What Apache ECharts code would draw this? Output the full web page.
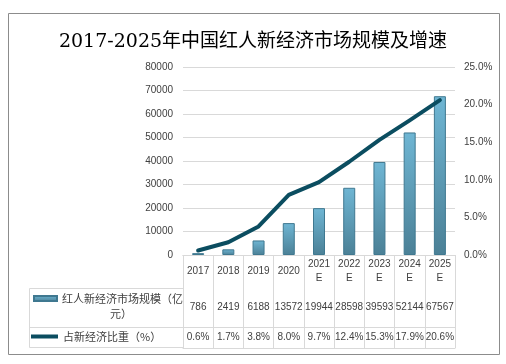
<!DOCTYPE html>
<html><head><meta charset="utf-8">
<script src="https://cdn.jsdelivr.net/npm/echarts@6/dist/echarts.min.js"></script>
<style>html,body{margin:0;padding:0;background:#fff}#c{width:506px;height:364px}</style>
</head><body><div id="c"></div>
<script>
const titleText = '2017-2025年中国红人新经济市场规模及增速';
const years = ['2017','2018','2019','2020','2021E','2022E','2023E','2024E','2025E'];
const marketSize = [786, 2419, 6188, 13572, 19944, 28598, 39593, 52144, 67567];
const shareRatio = [0.6, 1.7, 3.8, 8.0, 9.7, 12.4, 15.3, 17.9, 20.6];
const seriesNames = ['红人新经济市场规模（亿元）', '占新经济比重（%）'];
const legendLine1 = '红人新经济市场规模（亿';
const legendLine2 = '元）';

const numFont = 'Liberation Sans';
const txt = '#404040';
const gridColor = '#d9d9d9';
const lineColor = '#0b4d60';
const GRID = {left: 183, right: 51, top: 67, bottom: 109};

const barColor = new echarts.graphic.LinearGradient(0, 0, 0, 1, [
  {offset: 0, color: '#6fb6d4'},
  {offset: 1, color: '#4b8096'}
]);

function tableAxis(offset, margin, fmt, showLabel) {
  return {
    type: 'category', data: years, position: 'bottom', offset: offset,
    axisLine: {show: true, lineStyle: {color: gridColor, width: 1}},
    axisTick: {show: false},
    axisLabel: {show: showLabel, interval: 0, margin: margin, verticalAlign: 'middle',
      fontFamily: numFont, fontSize: 10, color: txt, formatter: fmt}
  };
}

const chart = echarts.init(document.getElementById('c'), null, {renderer: 'canvas'});
chart.setOption({
  animation: false,
  backgroundColor: '#fff',
  title: {
    text: titleText, left: 'center', top: 28,
    textStyle: {fontFamily: '"DejaVu Serif", "Noto Sans CJK SC"', fontSize: 19, fontWeight: 'normal', color: '#000'}
  },
  grid: GRID,
  legend: [
    {
      data: [{name: seriesNames[0], icon: 'rect'}], left: 33, top: 291, padding: 0,
      itemWidth: 23, itemHeight: 5,
      formatter: () => legendLine1,
      textStyle: {fontFamily: 'Noto Sans CJK SC', fontSize: 11, color: txt, lineHeight: 15}
    },
    {
      data: [{name: seriesNames[1], icon: 'rect'}], left: 31, top: 331, padding: 0,
      itemWidth: 27, itemHeight: 4, itemGap: 0,
      itemStyle: {color: lineColor},
      textStyle: {fontFamily: 'Noto Sans CJK SC', fontSize: 11, color: txt}
    }
  ],
  xAxis: [
    {
      type: 'category', data: years, position: 'bottom',
      axisLine: {show: true, lineStyle: {color: gridColor, width: 1}},
      axisTick: {show: true, length: 93, lineStyle: {color: gridColor}},
      axisLabel: {interval: 0, margin: 16, verticalAlign: 'middle', lineHeight: 14,
        fontFamily: numFont, fontSize: 10, color: txt,
        formatter: v => v.replace('E', '\nE')}
    },
    tableAxis(33, 19, (v, i) => String(marketSize[i]), true),
    tableAxis(72, 10, (v, i) => shareRatio[i].toFixed(1) + '%', true),
    tableAxis(93, 8, () => '', false)
  ],
  yAxis: [
    {
      type: 'value', min: 0, max: 80000, interval: 10000,
      axisLine: {show: false}, axisTick: {show: false},
      splitLine: {lineStyle: {color: gridColor}},
      axisLabel: {margin: 10, fontFamily: numFont, fontSize: 10, color: txt, formatter: v => String(v)}
    },
    {
      type: 'value', min: 0, max: 25, interval: 5, position: 'right',
      axisLine: {show: false}, axisTick: {show: false}, splitLine: {show: false},
      axisLabel: {margin: 9, fontFamily: numFont, fontSize: 10, color: txt,
        formatter: v => v.toFixed(1) + '%'}
    }
  ],
  series: [
    {
      name: seriesNames[0], type: 'bar', data: marketSize, xAxisIndex: 0, yAxisIndex: 0,
      barWidth: 12,
      itemStyle: {color: barColor, borderColor: '#3f7890', borderWidth: 1}
    },
    {
      name: seriesNames[1], type: 'line', data: shareRatio, xAxisIndex: 0, yAxisIndex: 1,
      symbol: 'none', smooth: false,
      lineStyle: {color: lineColor, width: 4, cap: 'round', join: 'round'},
      itemStyle: {color: lineColor}
    }
  ],
  graphic: [
    {type: 'rect', silent: true, shape: {x: 8.5, y: 13.5, width: 491, height: 341},
      style: {fill: null, stroke: '#8c8c8c', lineWidth: 1}, z: -1},
    {type: 'rect', silent: true, shape: {x: 29.5, y: 288.5, width: 154, height: 59},
      style: {fill: null, stroke: gridColor, lineWidth: 1}},
    {type: 'line', silent: true, shape: {x1: 29.5, y1: 327.5, x2: 183.5, y2: 327.5},
      style: {stroke: gridColor, lineWidth: 1}},
    {type: 'text', silent: true, x: 121, y: 314,
      style: {text: legendLine2, fontFamily: 'Noto Sans CJK SC', fontSize: 11, fill: txt,
        align: 'center', verticalAlign: 'middle'}}
  ]
});
</script></body></html>
